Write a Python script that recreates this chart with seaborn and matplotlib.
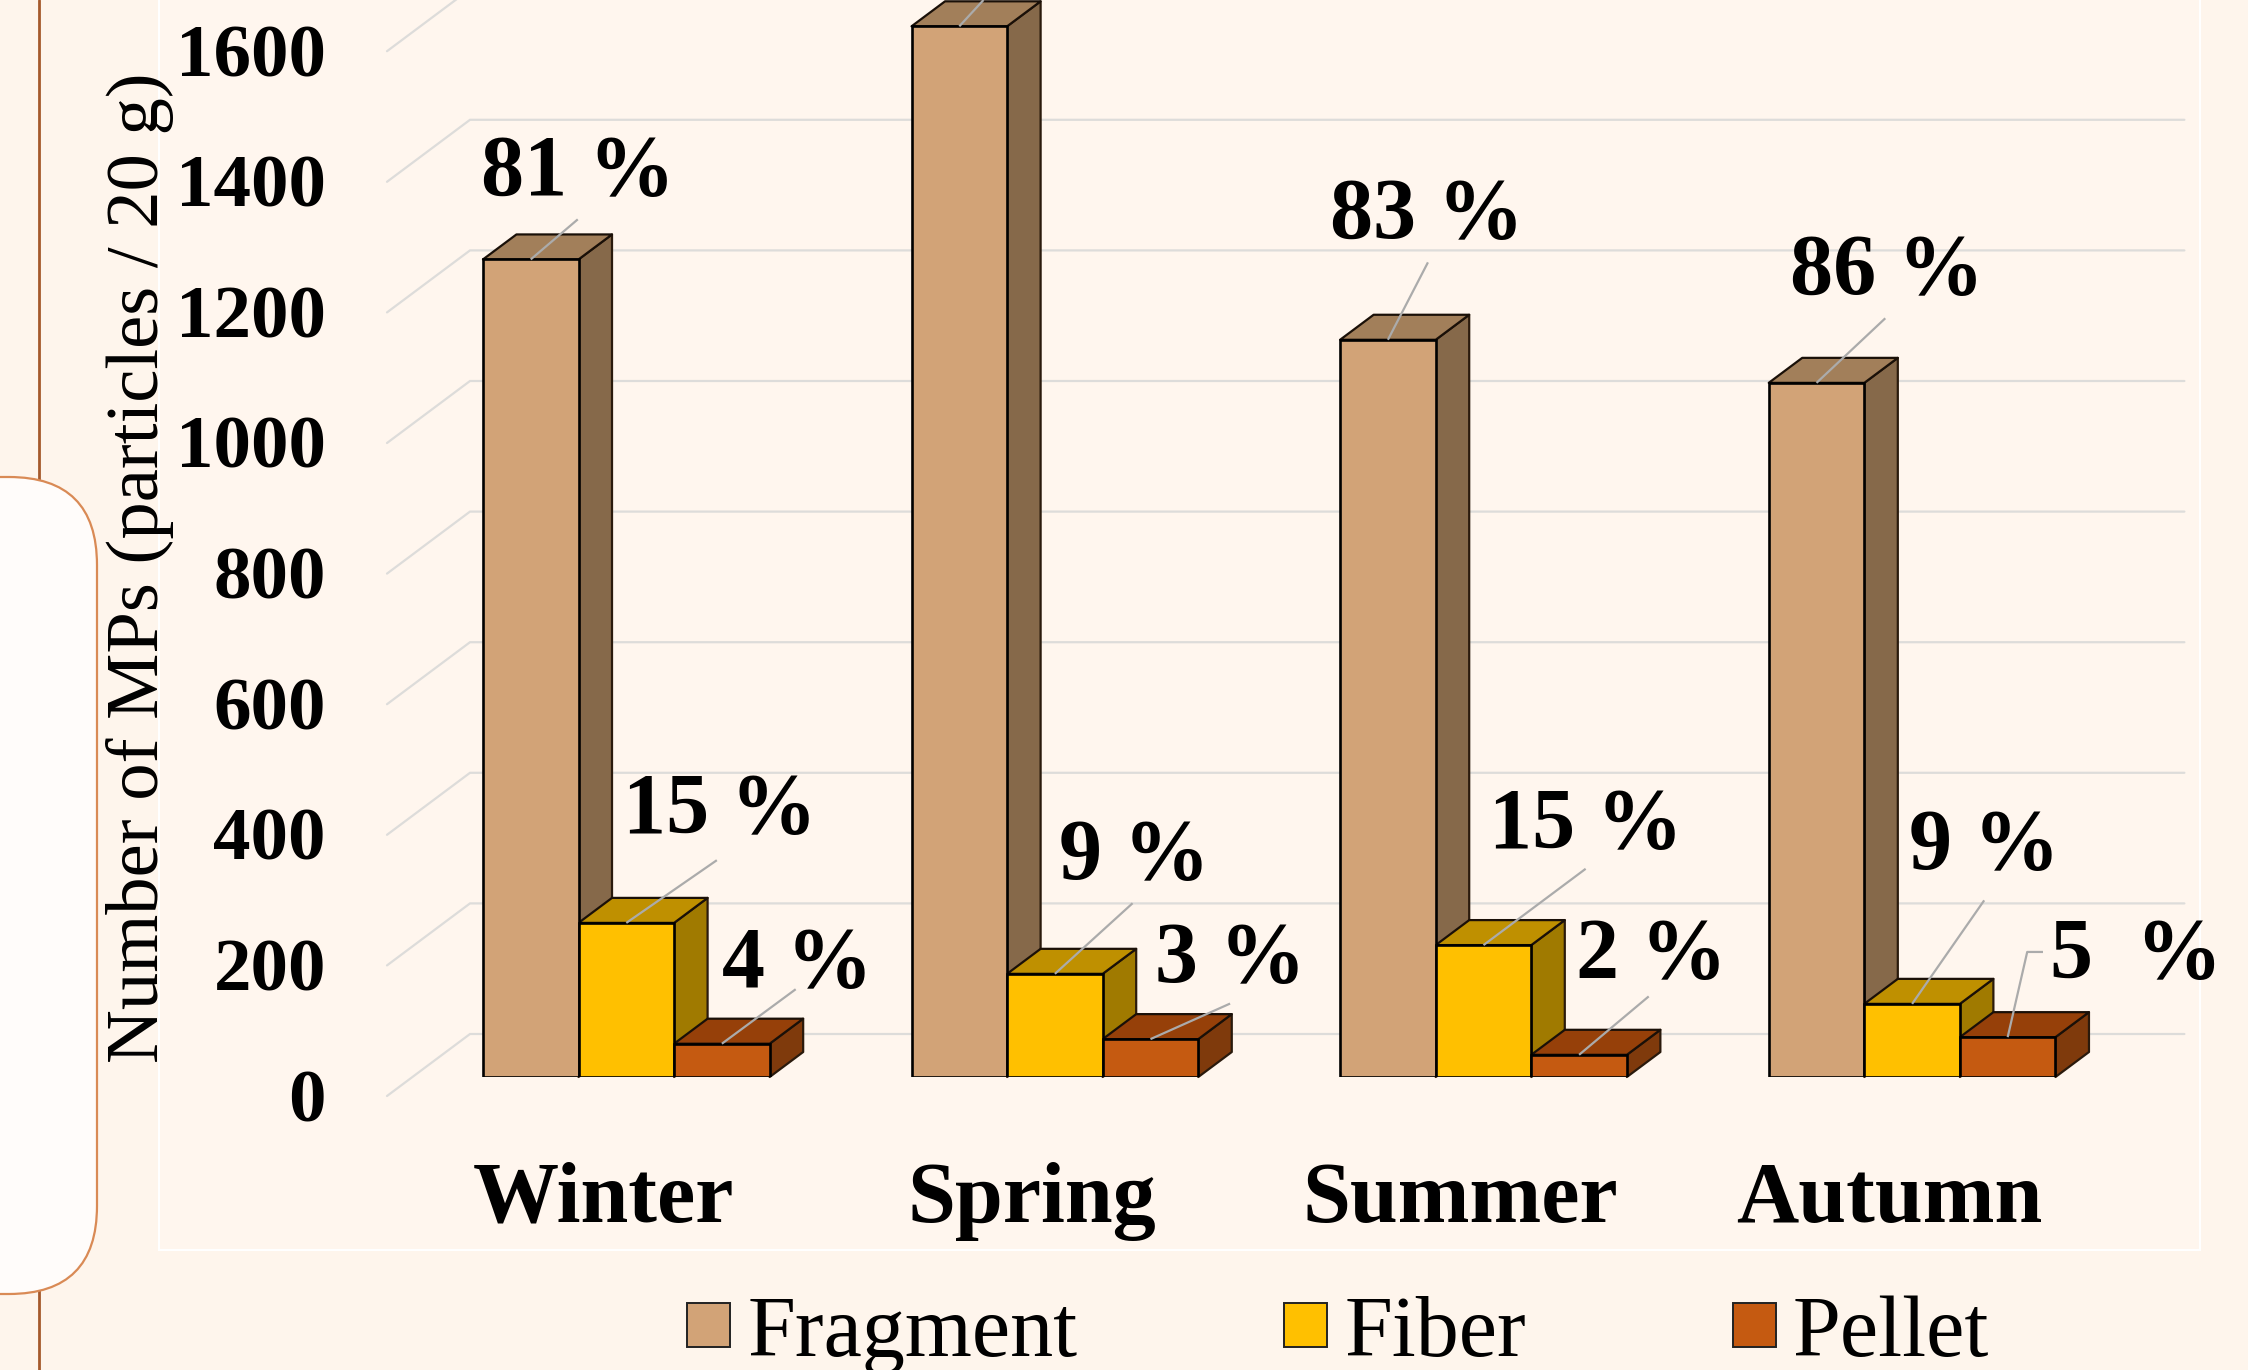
import numpy as np
import pandas as pd
import matplotlib
matplotlib.use("Agg")
import matplotlib.pyplot as plt
from matplotlib.patches import FancyBboxPatch, Rectangle, Polygon
from matplotlib.transforms import ScaledTranslation, IdentityTransform
import seaborn as sns

# ---- data ----
seasons = ["Winter", "Spring", "Summer", "Autumn"]
types = ["Fragment", "Fiber", "Pellet"]
fragment = [1252, 1609, 1129, 1063]
fiber = [236, 158, 202, 112]
pellet = [51, 58, 34, 61]
y_ticks = [0, 200, 400, 600, 800, 1000, 1200, 1400, 1600]
pct_labels = [["81 %", "15 %", "4 %"], ["", "9 %", "3 %"],
              ["83 %", "15 %", "2 %"], ["86 %", "9 %", "5  %"]]

# ---- layout (pixels of the full picture) ----
W, H, DPI = 2248, 1370, 100
S = 2248 / 1568
PAGE = "#FEF5EC"
AX_L, AX_BASE, PERIOD, GRID_PX = 412, 1077, 428.6, 130.6
DEPTH_X, DEPTH_Y = 33.5, 25
BACK_X, BACK_Y = 58, 43
FRONT_X, FRONT_Y = -25, -19
BAR_SPAN = 0.669
label_pos = [[(403, 122), (502, 567), (556, 674)],
             [None, (791, 599), (858, 671)],
             [(995, 152), (1106, 577), (1152, 668)],
             [(1316, 191), (1384, 592), (1490, 668)]]
leader_ends = [[[(403, 153)], [(500, 600)], [(555, 690)]],
               [[(686, 0)], [(790, 630)], [(858, 700)]],
               [[(996, 183)], [(1106, 606)], [(1150, 695)]],
               [[(1315, 222)], [(1384, 628)], [(1414, 664), (1425, 664)]]]

face = ["#D2A377", "#FFC000", "#C55A11"]
top_c = ["#A27F5A", "#BF9000", "#964009"]
side_c = ["#86694A", "#A07A00", "#7F3A0C"]

sns.set_theme(style="white")
plt.rcParams["font.family"] = ["Liberation Serif", "DejaVu Serif"]
plt.rcParams["axes.unicode_minus"] = False

fig = plt.figure(figsize=(W / DPI, H / DPI), dpi=DPI, facecolor=PAGE)

# decorative page elements
fig.add_artist(Rectangle((159 / W, 1 - 1250 / H), (2200 - 159) / W, 1250 / H + 0.01,
                         transform=fig.transFigure, fc="#FFF6EE", ec="#FFFFFF", lw=1.5,
                         zorder=-3))
fig.add_artist(plt.Line2D([39 / W, 39 / W], [0, 1], transform=fig.transFigure,
                          color="#A5592C", lw=2, zorder=-2))
pan = FancyBboxPatch((-200, H - 1294), 297, 1294 - 477,
                     boxstyle="round,pad=0,rounding_size=88",
                     fc="#FFFCFA", ec="#D98A55", lw=1.6, zorder=-1)
pan.set_transform(IdentityTransform())
fig.add_artist(pan)

ax = fig.add_axes([AX_L / W, 1 - AX_BASE / H, 4 * PERIOD / W, AX_BASE / H])
ax.patch.set_alpha(0)

df = pd.DataFrame({
    "Season": np.repeat(seasons, 3),
    "Type": types * 4,
    "Count": [v for trio in zip(fragment, fiber, pellet) for v in trio],
})
sns.barplot(data=df, x="Season", y="Count", hue="Type", order=seasons, hue_order=types,
            palette=face, saturation=1, width=BAR_SPAN, gap=0, edgecolor="black",
            linewidth=1.9, ax=ax, zorder=2)

ax.set_xlim(-0.5, 3.5)
ax.set_ylim(0, AX_BASE * 200 / GRID_PX)
for s in ax.spines.values():
    s.set_visible(False)

px_x = 1 / PERIOD
px_y = 200 / GRID_PX


def to_data(px, py):
    return (px - AX_L) * px_x - 0.5, (AX_BASE - py) * px_y


# walls: gridlines on the back wall and their diagonals on the left side wall
x_back_r = 3.5 + BACK_X * px_x
x_back_l = -0.5 + BACK_X * px_x
x_front = -0.5 + FRONT_X * px_x
for v in y_ticks:
    yb = v + BACK_Y * px_y
    yf = v + FRONT_Y * px_y
    ax.plot([x_front, x_back_l, x_back_r], [yf, yb, yb], color="#DDDCDA", lw=1.6,
            zorder=0.5, clip_on=False, solid_joinstyle="miter")

# 3-D faces and leaders built from the bar values
dx = DEPTH_X * px_x
dy = DEPTH_Y * px_y
bw = BAR_SPAN / 3
for g, vals in enumerate(zip(fragment, fiber, pellet)):
    for k, v in enumerate(vals):
        x0 = g - BAR_SPAN / 2 + k * bw
        x1 = x0 + bw
        z = 1 + 0.1 * k
        ax.add_patch(Polygon([(x1, 0), (x1 + dx, dy), (x1 + dx, v + dy), (x1, v)],
                             fc=side_c[k], ec="#2A1A0C", lw=1.6, zorder=z, clip_on=False,
                             joinstyle="round"))
        ax.add_patch(Polygon([(x0, v), (x1, v), (x1 + dx, v + dy), (x0 + dx, v + dy)],
                             fc=top_c[k], ec="#1A1008", lw=1.6, zorder=z, clip_on=False,
                             joinstyle="round"))
        pts = [to_data(a * S, b * S) for a, b in leader_ends[g][k]]
        ax.plot([(x0 + x1) / 2] + [p[0] for p in pts], [v] + [p[1] for p in pts],
                color="#ABABAB", lw=1.6, zorder=3, solid_capstyle="butt")
        lp = label_pos[g][k]
        if lp is not None:
            tx, ty = to_data(lp[0] * S, lp[1] * S)
            ax.text(tx, ty, pct_labels[g][k], ha="center", va="center", fontsize=62,
                    fontweight="bold", color="black", zorder=4, clip_on=False)

# ticks
ax.set_yticks(y_ticks)
ax.tick_params(axis="y", length=0, pad=62, labelsize=54, labelcolor="black")
ax.tick_params(axis="x", length=0, pad=61, labelsize=62, labelcolor="black")
for t in ax.get_yticklabels():
    t.set_fontweight("bold")
    t.set_transform(t.get_transform() + ScaledTranslation(0, -18 / DPI, fig.dpi_scale_trans))
for t in ax.get_xticklabels():
    t.set_fontweight("bold")
    t.set_transform(t.get_transform() + ScaledTranslation(-23 / DPI, 0, fig.dpi_scale_trans))

ax.set_xlabel("")
ax.set_ylabel("Number of MPs (particles / 20 g)", fontsize=53.7, color="black")
ax.yaxis.set_label_coords(174 / W, 1 - 568 / H, transform=fig.transFigure)

# legend
sns.move_legend(ax, "center", bbox_to_anchor=(1338 / W, 1 - 1335 / H),
                bbox_transform=fig.transFigure, ncol=3, frameon=False, title=None,
                fontsize=62, handlelength=0.5, handleheight=0.41, handletextpad=0.2,
                columnspacing=2.4, borderpad=0, borderaxespad=0)
for h in ax.get_legend().get_patches():
    h.set_linewidth(1.4)
    h.set_edgecolor("#222222")
for t in ax.get_legend().get_texts():
    t.set_color("black")

fig.savefig("out.png", dpi=DPI, facecolor=PAGE)
